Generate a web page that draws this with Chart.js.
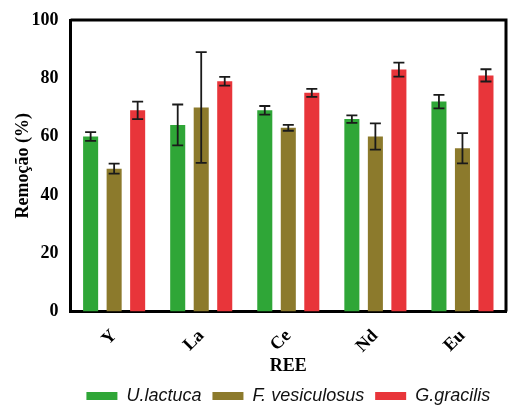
<!DOCTYPE html>
<html>
<head>
<meta charset="UTF-8">
<script src="https://cdn.jsdelivr.net/npm/chart.js"></script>
<style>
  body { margin: 0; background: #ffffff; }
  #wrap { width: 513px; height: 405px; }
</style>
</head>
<body>
<div id="wrap"><canvas id="grafico"></canvas></div>
<script>
// data
const elementos = ['Y', 'La', 'Ce', 'Nd', 'Eu'];
const ulactuca = [60, 64, 69, 66, 72];
const ulactucaErr = [1.5, 7, 1.5, 1.3, 2.3];
const fvesiculosus = [49, 70, 63, 60, 56];
const fvesiculosusErr = [1.7, 19, 1, 4.5, 5.2];
const ggracilis = [69, 79, 75, 83, 81];
const ggracilisErr = [3, 1.5, 1.4, 2.4, 2.1];
const yTicks = [0, 20, 40, 60, 80, 100];

const errores = [ulactucaErr, fvesiculosusErr, ggracilisErr];

// dibuja barras de error y el marco superior/derecho
const extras = {
  id: 'extras',
  afterDatasetsDraw(chart) {
    const ctx = chart.ctx;
    const y = chart.scales.y;
    ctx.save();
    ctx.strokeStyle = '#1a1a1a';
    ctx.lineWidth = 1.8;
    chart.data.datasets.forEach((ds, d) => {
      const meta = chart.getDatasetMeta(d);
      meta.data.forEach((bar, i) => {
        const v = ds.data[i], e = errores[d][i];
        const yt = y.getPixelForValue(v + e);
        const yb = y.getPixelForValue(v - e);
        const x = bar.x;
        ctx.beginPath();
        ctx.moveTo(x, yt); ctx.lineTo(x, yb);
        ctx.moveTo(x - 5.5, yt); ctx.lineTo(x + 5.5, yt);
        ctx.moveTo(x - 5.5, yb); ctx.lineTo(x + 5.5, yb);
        ctx.stroke();
      });
    });
    const a = chart.chartArea;
    ctx.strokeStyle = '#000';
    ctx.lineWidth = 3;
    ctx.beginPath();
    ctx.moveTo(a.left, a.top);
    ctx.lineTo(a.right, a.top);
    ctx.lineTo(a.right, a.bottom);
    ctx.stroke();
    ctx.restore();
  }
};

Chart.defaults.font.family = "'Liberation Serif', 'Times New Roman', serif";
Chart.defaults.color = '#000';

new Chart(document.getElementById('grafico').getContext('2d'), {
  type: 'bar',
  data: {
    labels: elementos,
    datasets: [
      { label: 'U.lactuca', data: ulactuca, backgroundColor: '#2fa637' },
      { label: 'F. vesiculosus', data: fvesiculosus, backgroundColor: '#8c7a2c' },
      { label: 'G.gracilis', data: ggracilis, backgroundColor: '#e8353a' }
    ]
  },
  options: {
    responsive: true,
    maintainAspectRatio: false,
    animation: false,
    layout: { padding: { top: 20, right: 7, left: 13, bottom: 0 } },
    datasets: { bar: { categoryPercentage: 0.81, barPercentage: 0.64 } },
    plugins: {
      tooltip: { enabled: false },
      legend: {
        position: 'bottom',
        fullSize: false,
        maxHeight: 29,
        labels: {
          boxWidth: 31,
          boxHeight: 8,
          padding: 11,
          font: { family: "'Liberation Sans', Arial, sans-serif", style: 'italic', size: 18, lineHeight: 1 },
          color: '#111'
        }
      }
    },
    scales: {
      x: {
        grid: { display: false, drawTicks: true, tickLength: 9, tickWidth: 3, tickColor: '#000' },
        border: { display: true, color: '#000', width: 3 },
        ticks: { minRotation: 45, maxRotation: 45, font: { size: 18, weight: 'bold' }, padding: 5 },
        title: { display: true, text: 'REE', font: { size: 18, weight: 'bold', lineHeight: 1 }, padding: { top: -5, bottom: 1 } }
      },
      y: {
        min: 0,
        max: 100,
        afterBuildTicks(axis) { axis.ticks = yTicks.map(v => ({ value: v })); },
        grid: { display: false, drawTicks: true, tickLength: 9, tickWidth: 3, tickColor: '#000' },
        border: { display: true, color: '#000', width: 3 },
        ticks: { font: { size: 18, weight: 'bold' }, padding: 3 },
        title: { display: true, text: 'Remoção (%)', font: { size: 18, weight: 'bold' }, padding: { top: 0, bottom: -6 } }
      }
    }
  },
  plugins: [extras]
});
</script>
</body>
</html>
